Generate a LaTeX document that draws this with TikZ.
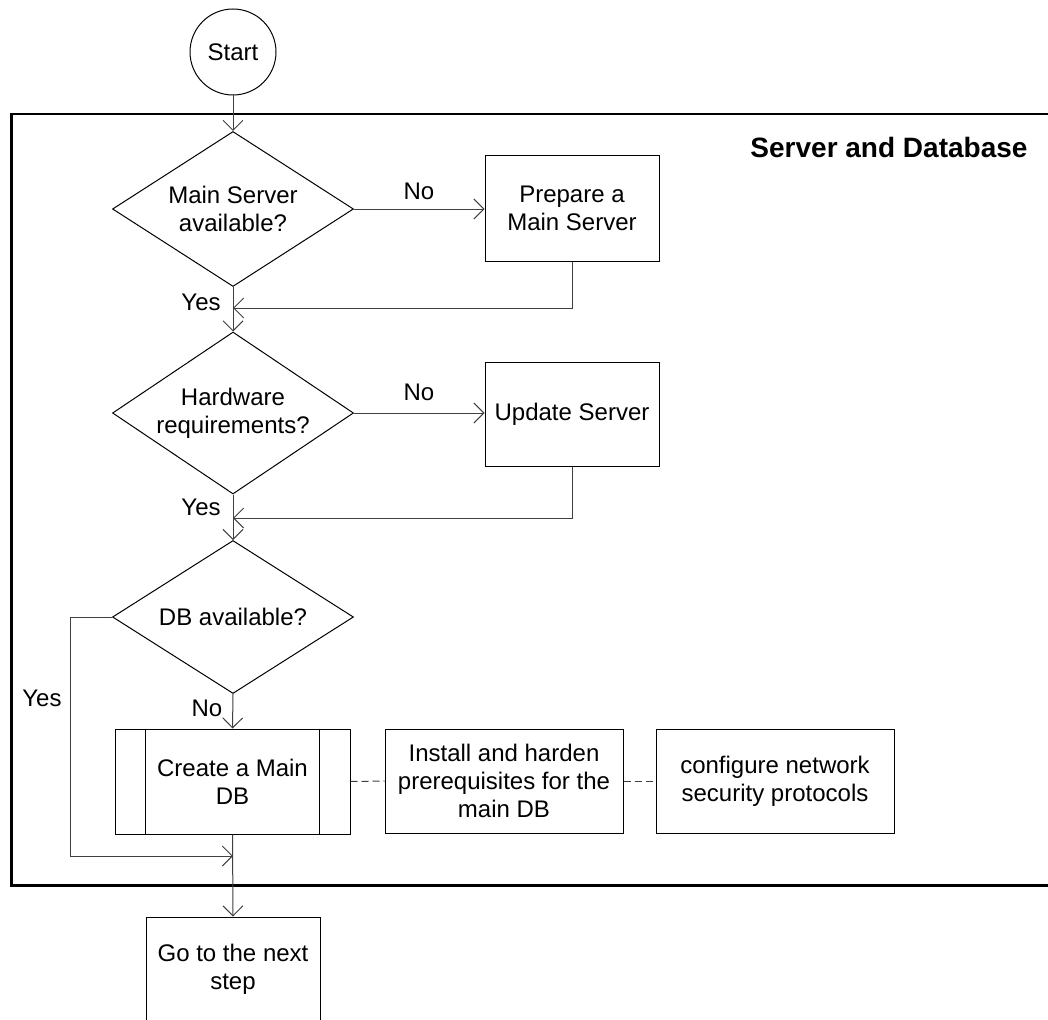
\documentclass[tikz,border=0pt]{standalone}
\usepackage{fontspec}
\setmainfont{Liberation Sans}
\usetikzlibrary{shapes.geometric,arrows.meta}
\begin{document}
\begin{tikzpicture}[x=1pt,y=-1pt,
  every node/.style={font=\fontsize{24}{28}\selectfont, align=center, inner sep=0pt},
  box/.style={draw=black, line width=1pt, rectangle, minimum width=174pt, minimum height=106pt},
  wbox/.style={draw=black, line width=1pt, rectangle, minimum width=238pt, minimum height=104pt},
  dec/.style={draw=black, shape=diamond, aspect=1.55, line width=1pt, minimum width=241pt},
  conn/.style={draw=black!75, line width=1pt},
  arr/.style={conn, -{Straight Barb[length=10pt,width=20pt,line width=1pt]}},
  link/.style={conn, dash pattern=on 7pt off 4pt},
  lbl/.style={font=\fontsize{24}{28}\selectfont}]
\useasboundingbox (0,0) rectangle (1048,1019);
\clip (0,0) rectangle (1048,1019);
\fill[white] (0,0) rectangle (1048,1019);

% container
\node[draw=black, line width=2.5pt, minimum width=1060pt, minimum height=771pt, anchor=north west] (grp) at (10,113) {};
\node[font=\fontsize{28}{32}\selectfont\bfseries] (title) at (889,147) {Server and Database};

% nodes
\node[draw=black, line width=1pt, circle, minimum size=86pt] (start) at (233,52) {Start};
\node[dec, minimum height=155pt] (d1) at (233,209) {Main Server\\available?};
\node[box] (p1) at (572,208.5) {Prepare a\\Main Server};
\node[dec, minimum height=162pt] (d2) at (233,413) {Hardware\\requirements?};
\node[box, minimum height=104pt] (p2) at (572,414) {Update Server};
\node[dec, minimum height=153pt] (d3) at (233,617) {DB available?};
\node[wbox, minimum width=235pt, minimum height=105pt] (cdb) at (232.5,781.5) {Create a Main\\DB};
\node[wbox] (inst) at (504,781) {Install and harden\\prerequisites for the\\main DB};
\node[wbox] (conf) at (775,781) {configure network\\security protocols};
\node[box, minimum height=104pt] (next) at (233,969) {Go to the next\\step};

\draw[line width=1pt] ([xshift=31pt]cdb.north west) -- ([xshift=31pt]cdb.south west);
\draw[line width=1pt] ([xshift=-31pt]cdb.north east) -- ([xshift=-31pt]cdb.south east);

% merge points
\coordinate (m1) at (233,308);
\coordinate (m2) at (233,518);
\coordinate (m3) at (233,856);
\coordinate (yb) at (70,856);

% connectors
\draw[arr] (start) -- (d1);
\draw[arr] (d1.east) -- (d1.east -| p1.west);
\draw[arr] (p1.south) |- (m1);
\draw[arr] (d1.south) -- (d2.north);
\draw[arr] (d2.east) -- (d2.east -| p2.west);
\draw[arr] (p2.south) |- (m2);
\draw[arr] (d2.south) -- (d3.north);
\draw[arr] (d3.south) -- (cdb.north);
\draw[arr] (d3.west) -| (yb) -- (m3);
\draw[arr] (cdb.south) -- (next.north);
\draw[link] (cdb.east) -- (inst.west);
\draw[link] (inst.east) -- (conf.west);

% labels
\node[lbl] (no1) at (419,191) {No};
\node[lbl] (yes1) at (201,302) {Yes};
\node[lbl] (no2) at (419,392) {No};
\node[lbl] (yes2) at (201,507) {Yes};
\node[lbl] (yes3) at (42,698) {Yes};
\node[lbl] (no3) at (207,708) {No};
\end{tikzpicture}
\end{document}
